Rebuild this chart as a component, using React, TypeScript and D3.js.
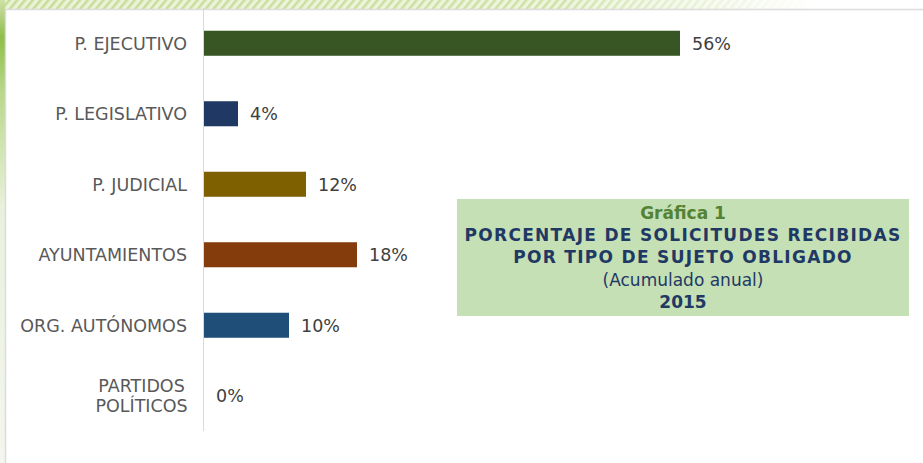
import React from 'react';
import * as d3 from 'd3';

// categories, values (%) and bar colours
const categories = ['P. EJECUTIVO', 'P. LEGISLATIVO', 'P. JUDICIAL', 'AYUNTAMIENTOS', 'ORG. AUTÓNOMOS', 'PARTIDOS POLÍTICOS'];
const values = [56, 4, 12, 18, 10, 0];
const barColors = ['#375623', '#203864', '#7f6000', '#843c0c', '#1f4e79', '#1f4e79'];

const titleLines = ['Gráfica 1', 'PORCENTAJE DE SOLICITUDES RECIBIDAS', 'POR TIPO DE SUJETO OBLIGADO', '(Acumulado anual)', '2015'];

const W = 923;
const H = 463;
const font = '"DejaVu Sans", Verdana, sans-serif';

const App = () => {
  let axisX = 204;
  let x = d3.scaleLinear()
    .domain([0, d3.max(values)])
    .range([axisX, 680]);

  let y = d3.scaleBand()
    .domain(categories)
    .range([8, 431])
    .paddingInner(0.645)
    .paddingOuter(0.3225);

  let labelX = 187;

  return (
    <svg width={W} height={H} style={{position: 'absolute', left: 0, top: 0}}>
      <defs>
        <pattern id='stripes' width='6' height='6' patternUnits='userSpaceOnUse' patternTransform='rotate(40)'>
          <rect width='6' height='6' fill='#eaf3d6' />
          <rect width='2.5' height='6' fill='#c6dc98' />
        </pattern>
        <linearGradient id='fadeTop' x1='0' x2='1' y1='0' y2='0'>
          <stop offset='0' stopColor='#fff' stopOpacity='0' />
          <stop offset='0.6' stopColor='#fff' stopOpacity='0.15' />
          <stop offset='0.88' stopColor='#fff' stopOpacity='1' />
        </linearGradient>
        <linearGradient id='leftGlow' x1='0' x2='0' y1='0' y2='1'>
          <stop offset='0' stopColor='#cfe0a8' />
          <stop offset='0.08' stopColor='#8fbf4a' />
          <stop offset='0.2' stopColor='#b9d88a' />
          <stop offset='0.45' stopColor='#e9f1dc' />
          <stop offset='1' stopColor='#f3f6ee' />
        </linearGradient>
      </defs>

      {/* decorative background behind the chart panel */}
      <rect x={0} y={0} width={W} height={10} fill='url(#stripes)' />
      <rect x={0} y={0} width={W} height={10} fill='url(#fadeTop)' />
      <rect x={0} y={0} width={5} height={H} fill='url(#leftGlow)' />

      {/* panel */}
      <rect x={5} y={9} width={W - 5} height={H - 9} fill='#fff' />
      <line x1={5} x2={W} y1={9.5} y2={9.5} stroke='#dcdcdc' strokeWidth={1.5} />
      <line x1={5.5} x2={5.5} y1={9} y2={H} stroke='#dcdcdc' strokeWidth={1.5} />

      {/* axis line */}
      <line x1={axisX - 0.5} x2={axisX - 0.5} y1={8} y2={431} stroke='#d9d9d9' strokeWidth={1} />

      {categories.map((c, i) => {
        let cy = y(c) + y.bandwidth() / 2;
        let words = c === 'PARTIDOS POLÍTICOS' ? ['PARTIDOS', 'POLÍTICOS'] : [c];
        return (
          <g key={c}>
            <rect x={axisX} y={y(c)} width={x(values[i]) - axisX} height={y.bandwidth()} fill={barColors[i]} />
            {words.length === 1 ? (
              <text x={labelX} y={cy} dy='0.36em' textAnchor='end' fontFamily={font} fontSize={17.5} fill='#595959'>{c}</text>
            ) : (
              words.map((w, j) => (
                <text key={w} x={labelX - 45.5} y={cy + (j - 0.5) * 20} dy='0.36em' textAnchor='middle' fontFamily={font} fontSize={17.5} fill='#595959'>{w}</text>
              ))
            )}
            <text x={x(values[i]) + 12} y={cy} dy='0.36em' fontFamily={font} fontSize={17.5} fill='#404040'>{values[i] + '%'}</text>
          </g>
        );
      })}

      {/* title box */}
      <rect x={457} y={199} width={452} height={117} fill='#c5e0b4' />
      {titleLines.map((t, i) => (
        <text key={t} x={683} y={219 + i * 22.2} textAnchor='middle' fontFamily={font}
          fontSize={17} fontWeight={i === 3 ? 'normal' : 'bold'}
          letterSpacing={i === 1 || i === 2 ? 1.3 : 0}
          fill={i === 0 ? '#548235' : '#1f3864'}>{t}</text>
      ))}
    </svg>
  );
};

export default App;
